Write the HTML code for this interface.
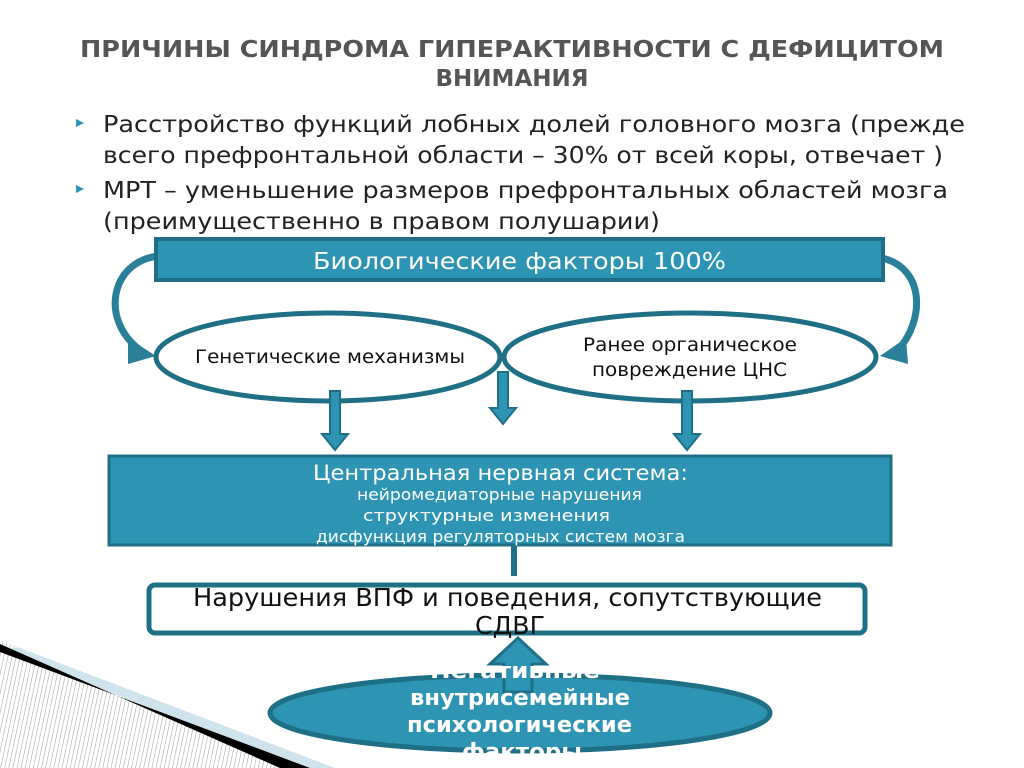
<!DOCTYPE html>
<html><head><meta charset="utf-8"><style>
html,body{margin:0;padding:0;background:#fff;}
svg{display:block;font-family:"DejaVu Sans","Liberation Sans",sans-serif;}
</style></head><body>
<svg width="1024" height="768" viewBox="0 0 1024 768" xmlns="http://www.w3.org/2000/svg">
<defs>
<pattern id="h" width="4" height="4" patternUnits="userSpaceOnUse" patternTransform="rotate(12)">
<rect width="4" height="4" fill="#fff"/><line x1="0" y1="0" x2="0" y2="4" stroke="#999" stroke-width="1"/>
</pattern>
</defs>
<polygon points="0,640 330,768 0,768" fill="url(#h)"/>
<polygon points="0,648 300,768 335,768 20,648" fill="#cfe3ec"/>
<polygon points="0,644 280,768 310,768 0,652" fill="#000"/>
<polygon points="0,654 272,768 0,768" fill="url(#h)"/>

<text x="80" y="57" textLength="864" lengthAdjust="spacingAndGlyphs" font-size="23" font-weight="bold" fill="#555">ПРИЧИНЫ СИНДРОМА ГИПЕРАКТИВНОСТИ С ДЕФИЦИТОМ</text>
<text x="512" y="86" text-anchor="middle" font-size="23" font-weight="bold" fill="#555">ВНИМАНИЯ</text>

<g font-size="23" fill="#222" lengthAdjust="spacingAndGlyphs">
<polygon points="76,119 84,123 76,127" fill="#2e94b4"/>
<polygon points="76,185 84,189 76,193" fill="#2e94b4"/>
<text x="103" y="132" textLength="862" lengthAdjust="spacingAndGlyphs">Расстройство функций лобных долей головного мозга (прежде</text>
<text x="103" y="163" textLength="840" lengthAdjust="spacingAndGlyphs">всего префронтальной области – 30% от всей коры, отвечает )</text>
<text x="103" y="198" textLength="845" lengthAdjust="spacingAndGlyphs">МРТ – уменьшение размеров префронтальных областей мозга</text>
<text x="103" y="229" textLength="557" lengthAdjust="spacingAndGlyphs">(преимущественно в правом полушарии)</text>
</g>

<path d="M158,256 C110,262 100,320 140,350" fill="none" stroke="#2a7f99" stroke-width="7"/>
<polygon points="128,338 156,356 128,364" fill="#2a7f99"/>
<path d="M882,258 C925,268 925,320 898,350" fill="none" stroke="#2a7f99" stroke-width="7"/>
<polygon points="906,338 880,356 908,364" fill="#2a7f99"/>

<rect x="156" y="239" width="727" height="41" fill="#2e94b4" stroke="#1f6f86" stroke-width="4"/>
<text x="313" y="269" textLength="413" lengthAdjust="spacingAndGlyphs" font-size="23" fill="#fff">Биологические факторы 100%</text>

<ellipse cx="328" cy="357" rx="172" ry="44" fill="#fff" stroke="#1f6f86" stroke-width="5"/>
<ellipse cx="690" cy="357" rx="186" ry="44" fill="#fff" stroke="#1f6f86" stroke-width="5"/>
<text x="195" y="363" textLength="270" lengthAdjust="spacingAndGlyphs" font-size="19" fill="#111">Генетические механизмы</text>
<text x="583" y="351" textLength="214" lengthAdjust="spacingAndGlyphs" font-size="19" fill="#111">Ранее органическое</text>
<text x="592" y="376" textLength="195" lengthAdjust="spacingAndGlyphs" font-size="19" fill="#111">повреждение ЦНС</text>

<g fill="#2e94b4" stroke="#1f6f86" stroke-width="2">
<polygon points="330,391 340,391 340,434 348,434 335,450 322,434 330,434"/>
<polygon points="498,372 508,372 508,408 516,408 503,424 490,408 498,408"/>
<polygon points="682,391 692,391 692,434 700,434 687,450 674,434 682,434"/>
</g>

<rect x="109" y="456" width="782" height="89" fill="#2e94b4" stroke="#1f6f86" stroke-width="3"/>
<text x="313" y="480" textLength="375" lengthAdjust="spacingAndGlyphs" font-size="21" fill="#fff">Центральная нервная система:</text>
<g font-size="16" fill="#fff">
<text x="357" y="500" textLength="285" lengthAdjust="spacingAndGlyphs">нейромедиаторные нарушения</text>
<text x="363" y="521" textLength="247" lengthAdjust="spacingAndGlyphs">структурные изменения</text>
<text x="316" y="542" textLength="369" lengthAdjust="spacingAndGlyphs">дисфункция регуляторных систем мозга</text>
</g>
<rect x="511" y="546" width="6" height="30" fill="#1f6f86"/>

<rect x="149" y="585" width="716" height="48" rx="6" fill="#fff" stroke="#1f6f86" stroke-width="5"/>
<text x="193" y="606" textLength="629" lengthAdjust="spacingAndGlyphs" font-size="25" fill="#111">Нарушения ВПФ и поведения, сопутствующие</text>
<text x="475" y="634" textLength="70" lengthAdjust="spacingAndGlyphs" font-size="25" fill="#111">СДВГ</text>

<ellipse cx="520" cy="713" rx="250" ry="38" fill="#2e94b4" stroke="#1f6f86" stroke-width="5"/>
<polygon points="504,692 532,692 532,664 546,664 518,638 490,664 504,664" fill="#2e94b4" stroke="#1f6f86" stroke-width="3"/>
<g font-size="22" font-weight="bold" fill="#fff">
<text x="430" y="678" textLength="170" lengthAdjust="spacingAndGlyphs">Негативные</text>
<text x="410" y="705" textLength="220" lengthAdjust="spacingAndGlyphs">внутрисемейные</text>
<text x="407" y="732" textLength="225" lengthAdjust="spacingAndGlyphs">психологические</text>
<text x="462" y="759" textLength="120" lengthAdjust="spacingAndGlyphs">факторы</text>
</g>
</svg>
</body></html>
